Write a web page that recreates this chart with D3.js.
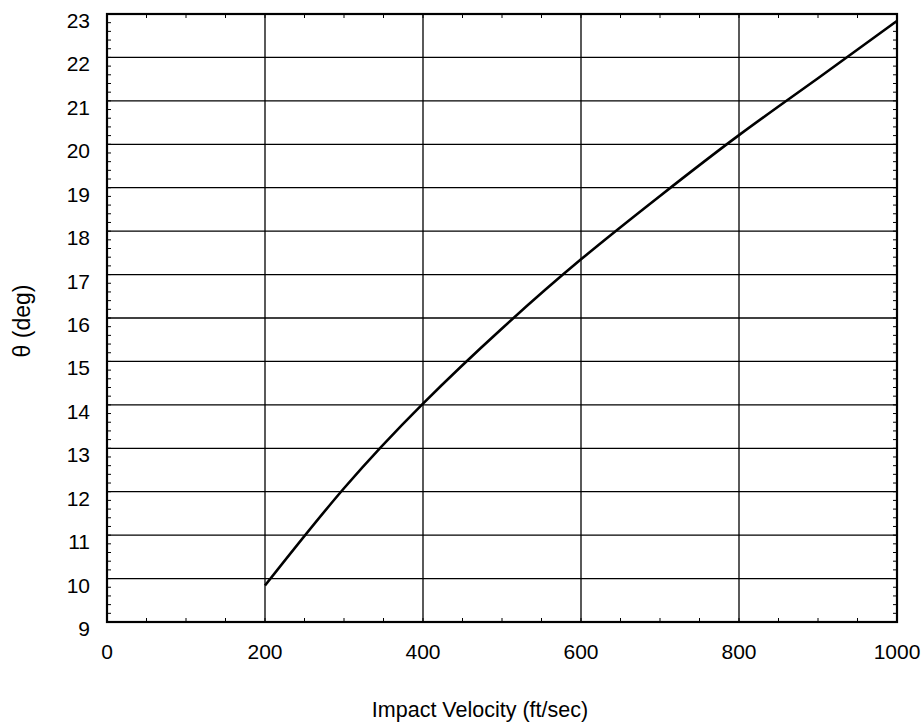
<!DOCTYPE html>
<html>
<head>
<meta charset="utf-8">
<script src="https://cdn.jsdelivr.net/npm/d3@7"></script>
<style>
  body { margin: 0; background: #fff; }
  text { font-family: "Liberation Sans", Arial, sans-serif; fill: #000; }
</style>
</head>
<body>
<div id="chart"></div>
<script>
// values (velocity in ft/sec, theta in deg)
var velocity = [200, 300, 400, 500, 600, 700, 800, 900, 1000];
var theta    = [9.84, 12.08, 14.03, 15.76, 17.35, 18.81, 20.21, 21.52, 22.84];

var xTicks = [0, 200, 400, 600, 800, 1000];
var yTicks = [9, 10, 11, 12, 13, 14, 15, 16, 17, 18, 19, 20, 21, 22, 23];

var width = 922, height = 725;
var margin = {top: 14, right: 25, bottom: 103, left: 107};
var w = width - margin.left - margin.right;
var h = height - margin.top - margin.bottom;

var svg = d3.select("#chart").append("svg")
  .attr("width", width)
  .attr("height", height);

var g = svg.append("g")
  .attr("transform", "translate(" + margin.left + "," + margin.top + ")");

var x = d3.scaleLinear().domain([0, 1000]).range([0, w]);
var y = d3.scaleLinear().domain([9, 23]).range([h, 0]);

// grid lines
g.append("g").selectAll("line.vg")
  .data(xTicks.slice(1, -1))
  .enter().append("line")
  .attr("x1", d => x(d)).attr("x2", d => x(d))
  .attr("y1", 0).attr("y2", h)
  .attr("stroke", "#000").attr("stroke-width", 1.3);

g.append("g").selectAll("line.hg")
  .data(yTicks.slice(1, -1))
  .enter().append("line")
  .attr("x1", 0).attr("x2", w)
  .attr("y1", d => y(d)).attr("y2", d => y(d))
  .attr("stroke", "#000").attr("stroke-width", 1.3);

// minor ticks, inward on all four sides
var yMinor = d3.range(9, 23.001, 0.2);
var xMinor = d3.range(0, 1000.1, 50);

g.append("g").selectAll("line")
  .data(yMinor).enter().append("line")
  .attr("x1", 0).attr("x2", 4)
  .attr("y1", d => y(d)).attr("y2", d => y(d))
  .attr("stroke", "#000").attr("stroke-width", 1);
g.append("g").selectAll("line")
  .data(yMinor).enter().append("line")
  .attr("x1", w).attr("x2", w - 4)
  .attr("y1", d => y(d)).attr("y2", d => y(d))
  .attr("stroke", "#000").attr("stroke-width", 1);
g.append("g").selectAll("line")
  .data(xMinor).enter().append("line")
  .attr("x1", d => x(d)).attr("x2", d => x(d))
  .attr("y1", h).attr("y2", h - 4)
  .attr("stroke", "#000").attr("stroke-width", 1);
g.append("g").selectAll("line")
  .data(xMinor).enter().append("line")
  .attr("x1", d => x(d)).attr("x2", d => x(d))
  .attr("y1", 0).attr("y2", 4)
  .attr("stroke", "#000").attr("stroke-width", 1);

// frame
g.append("rect")
  .attr("width", w).attr("height", h)
  .attr("fill", "none").attr("stroke", "#000").attr("stroke-width", 2.2);

// tick labels
g.append("g").selectAll("text")
  .data(xTicks).enter().append("text")
  .attr("x", d => x(d))
  .attr("y", h + 37)
  .attr("text-anchor", "middle")
  .style("font-size", "21px")
  .text(d => d);

g.append("g").selectAll("text")
  .data(yTicks).enter().append("text")
  .attr("x", -17)
  .attr("y", d => y(d) + 14)
  .attr("text-anchor", "end")
  .style("font-size", "21px")
  .text(d => d);

// axis titles
svg.append("text")
  .attr("x", 480)
  .attr("y", 717)
  .attr("text-anchor", "middle")
  .style("font-size", "21.5px")
  .text("Impact Velocity (ft/sec)");

svg.append("text")
  .attr("transform", "translate(30," + 321 + ") rotate(-90)")
  .attr("text-anchor", "middle")
  .style("font-size", "23px")
  .text("θ (deg)");

// curve
var pts = velocity.map((v, i) => [v, theta[i]]);
var line = d3.line()
  .x(d => x(d[0]))
  .y(d => y(d[1]))
  .curve(d3.curveNatural);

g.append("path")
  .datum(pts)
  .attr("d", line)
  .attr("fill", "none")
  .attr("stroke", "#000")
  .attr("stroke-width", 2.6);
</script>
</body>
</html>
